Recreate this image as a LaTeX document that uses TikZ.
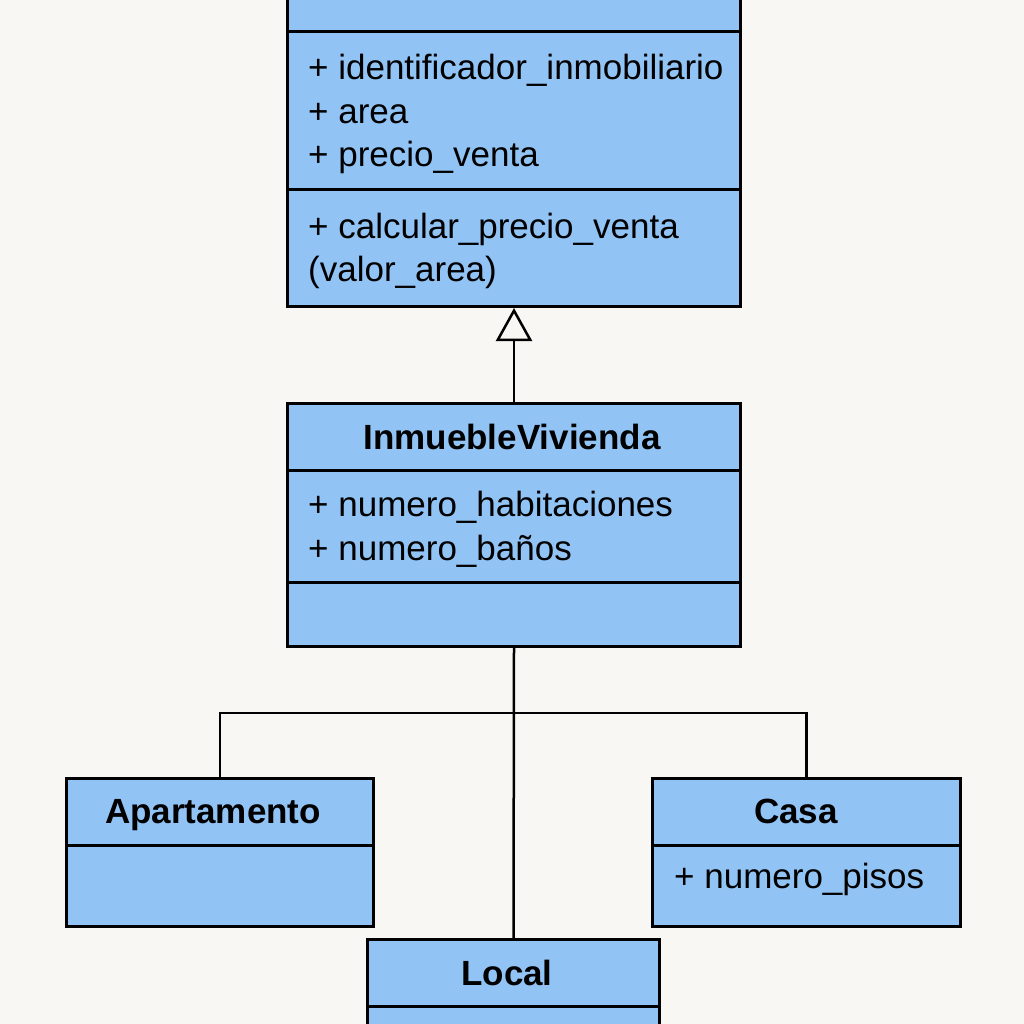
\documentclass[tikz,border=0pt]{standalone}
\usepackage{fontspec}
\setmainfont{Liberation Sans}
\usetikzlibrary{arrows.meta, positioning}
\definecolor{classblue}{RGB}{146, 195, 245}
\definecolor{paper}{RGB}{249, 247, 243}

\begin{document}
\begin{tikzpicture}[x=1pt, y=-1pt,
  classbox/.style={draw, line width=3pt, fill=classblue, anchor=north west, inner sep=0pt},
  classtitle/.style={font=\fontsize{35}{42}\selectfont\bfseries, anchor=base, inner sep=0pt},
  member/.style={font=\fontsize{35}{42}\selectfont, anchor=base west, inner sep=0pt},
  divider/.style={line width=3pt},
  link/.style={line width=2.5pt}]
  % Background
  \fill[paper] (0,0) rectangle (1024,1024);
  \clip (0,0) rectangle (1024,1024);

  % Inmueble (cut off at the top)
  \node[classbox, minimum width=453pt, minimum height=325pt] (inm) at (286,-20) {};
  \draw[divider] (inm.west |- 0,32) -- (inm.east |- 0,32);
  \draw[divider] (inm.west |- 0,190) -- (inm.east |- 0,190);
  \node[member] (idinm) at (308,80) {+ identificador\_inmobiliario};
  \node[member] (area) at (308,124) {+ area};
  \node[member] (precio) at (308,167) {+ precio\_venta};
  \node[member] (calc) at (308,238) {+ calcular\_precio\_venta};
  \node[member] (calcarg) at (308,281) {(valor\_area)};

  % InmuebleVivienda
  \node[classbox, minimum width=453pt, minimum height=243pt] (viv) at (286,402) {};
  \draw[divider] (viv.west |- 0,470) -- (viv.east |- 0,470);
  \draw[divider] (viv.west |- 0,582) -- (viv.east |- 0,582);
  \node[classtitle] (vivtitle) at (512,449) {InmuebleVivienda};
  \node[member] (hab) at (308,516) {+ numero\_habitaciones};
  \node[member] (banos) at (308,560) {+ numero\_baños};

  % Apartamento
  \node[classbox, minimum width=307pt, minimum height=148pt] (apto) at (65,777) {};
  \draw[divider] (apto.west |- 0,845) -- (apto.east |- 0,845);
  \node[classtitle] (aptotitle) at (213,823) {Apartamento};

  % Casa
  \node[classbox, minimum width=308pt, minimum height=148pt] (casa) at (651,777) {};
  \draw[divider] (casa.west |- 0,845) -- (casa.east |- 0,845);
  \node[classtitle] (casatitle) at (796,823) {Casa};
  \node[member] (pisos) at (674,888) {+ numero\_pisos};

  % Local (cut off at the bottom)
  \node[classbox, minimum width=292pt, minimum height=110pt] (local) at (366,938) {};
  \draw[divider] (local.west |- 0,1006) -- (local.east |- 0,1006);
  \node[classtitle] (localtitle) at (507,985) {Local};

  % Generalization
  \draw[link, -{Triangle[open, width=36pt, length=33pt, line width=2.5pt]}] (viv.north) -- (inm.south);

  % Subclasses
  \coordinate (bus) at (512,713);
  \draw[link] (viv.south) -- (local.north);
  \draw[link] (apto.north) |- (bus) -| (casa.north);
\end{tikzpicture}
\end{document}
